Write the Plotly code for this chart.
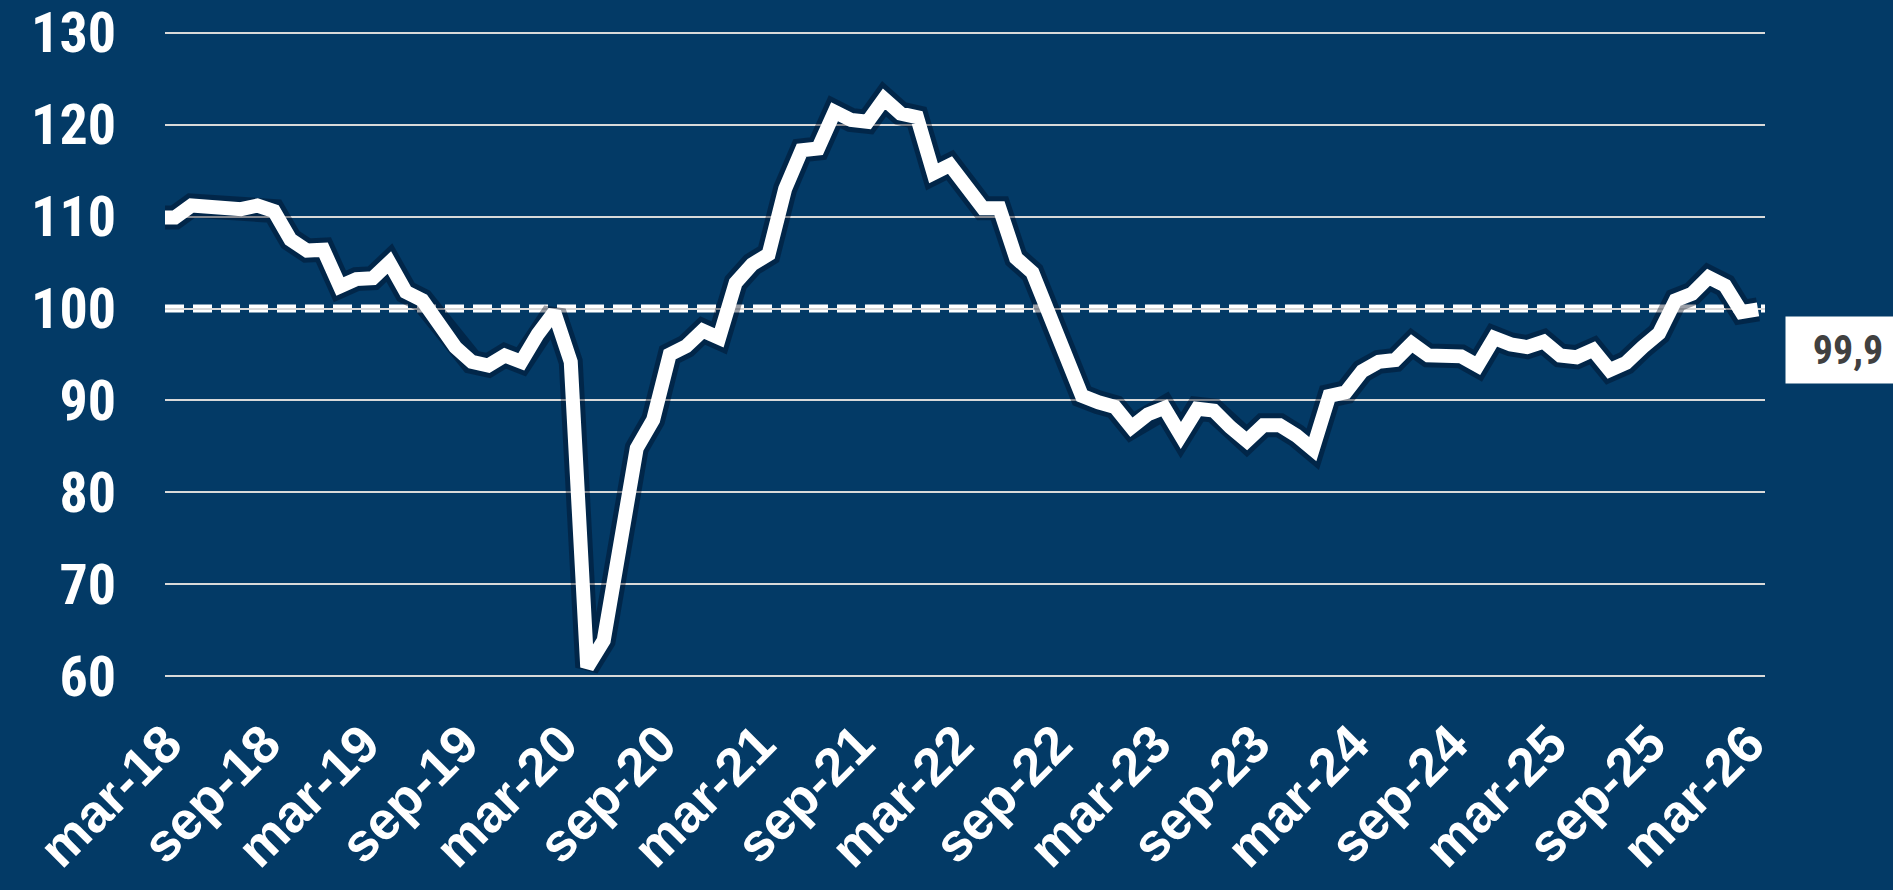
import pandas as pd
import plotly.graph_objects as go

# ---------------- data ----------------
month_abbr = ["ene", "feb", "mar", "abr", "may", "jun",
              "jul", "ago", "sep", "oct", "nov", "dic"]
month_starts = pd.date_range("2018-02-01", "2026-03-01", freq="MS")
categories = [f"{month_abbr[d.month - 1]}-{d.year % 100:02d}" for d in month_starts]

values = [
    109.9,                                                    # feb-18
    109.9, 111.2, 111.1, 111.0, 110.8, 111.2, 110.6, 107.5, 106.3, 106.4,   # mar-18 .. dic-18
    102.4, 103.2, 103.3, 105.0, 101.8, 100.9, 98.3, 95.8, 94.2, 93.8,       # ene-19 .. oct-19
    94.9, 94.2, 97.2, 99.6, 94.2, 61.0, 63.9, 75.4, 84.8, 87.9,             # nov-19 .. ago-20
    95.0, 95.9, 97.6, 96.8, 102.8, 104.8, 105.9, 113.0, 117.2, 117.4,       # sep-20 .. jun-21
    121.4, 120.5, 120.3, 122.8, 121.2, 120.8, 114.7, 115.6, 113.3, 110.9,   # jul-21 .. abr-22
    110.9, 105.5, 103.9, 99.2, 94.7, 90.5, 89.8, 89.3, 87.1, 88.5,          # may-22 .. feb-23
    89.2, 86.2, 89.1, 88.9, 87.1, 85.6, 87.3, 87.3, 86.2, 84.7,             # mar-23 .. dic-23
    90.5, 90.9, 93.2, 94.2, 94.4, 96.2, 94.9, 94.7, 94.8, 93.8,             # ene-24 .. oct-24
    96.8, 96.1, 95.8, 96.4, 94.9, 94.7, 95.5, 93.3, 94.1, 95.8,             # nov-24 .. ago-25
    97.3, 100.9, 101.6, 103.4, 102.5, 99.6, 99.9,                           # sep-25 .. mar-26
]

tick_labels = ["mar-18", "sep-18", "mar-19", "sep-19", "mar-20", "sep-20",
               "mar-21", "sep-21", "mar-22", "sep-22", "mar-23", "sep-23",
               "mar-24", "sep-24", "mar-25", "sep-25", "mar-26"]
y_ticks = [60, 70, 80, 90, 100, 110, 120, 130]
reference_level = 100
last_label = "99,9"

# ---------------- styles ----------------
BG = "#033a66"
FONT_NARROW = "Roboto Condensed, Liberation Sans, Arial, sans-serif"
FONT_WIDE = "Liberation Sans, Arial, sans-serif"

fig = go.Figure()

# soft shadow under the main line
fig.add_trace(go.Scatter(
    x=categories, y=values, mode="lines",
    line=dict(color="rgba(0,10,30,0.4)", width=24, shape="linear"),
    hoverinfo="skip", showlegend=False,
))
fig.add_trace(go.Scatter(
    x=categories, y=values, mode="lines",
    line=dict(color="white", width=14, shape="linear"),
    showlegend=False,
))

fig.add_shape(
    type="line", xref="paper", yref="y", x0=0, x1=1,
    y0=reference_level, y1=reference_level,
    line=dict(color="white", width=8, dash="19px,9px"),
    layer="between",
)

fig.add_annotation(
    x=categories[-1], y=values[-1], xref="x", yref="y",
    text=last_label, showarrow=False,
    xanchor="left", yanchor="top", xshift=27, yshift=-7,
    font=dict(family=FONT_NARROW, size=40, color="#404040", weight="bold"),
    bgcolor="white", width=108, height=50, borderpad=8,
)

fig.update_layout(
    width=1893, height=890,
    paper_bgcolor=BG, plot_bgcolor=BG,
    margin=dict(l=165, r=128, t=28, b=209, autoexpand=False),
    showlegend=False,
    xaxis=dict(
        type="category", categoryorder="array", categoryarray=categories,
        range=[0.393, 97.425], automargin=False,
        tickmode="array", tickvals=tick_labels, ticktext=tick_labels,
        tickangle=-45, showgrid=False, zeroline=False, showline=False,
        ticks="", ticklabelstandoff=20, ticklabelshift=-9,
        tickfont=dict(family=FONT_WIDE, size=53, color="white", weight="bold"),
    ),
    yaxis=dict(
        range=[59.5, 130.5], tickmode="array", tickvals=y_ticks, automargin=False,
        showgrid=True, gridcolor="#d9d9d9", gridwidth=2,
        zeroline=False, showline=False, ticks="", ticklabelstandoff=48,
        tickfont=dict(family=FONT_NARROW, size=56, color="white", weight="bold"),
    ),
)

fig.write_html(
    "out.html",
    config={"displayModeBar": False},
    post_script="document.body.style.margin='0px';",
)
